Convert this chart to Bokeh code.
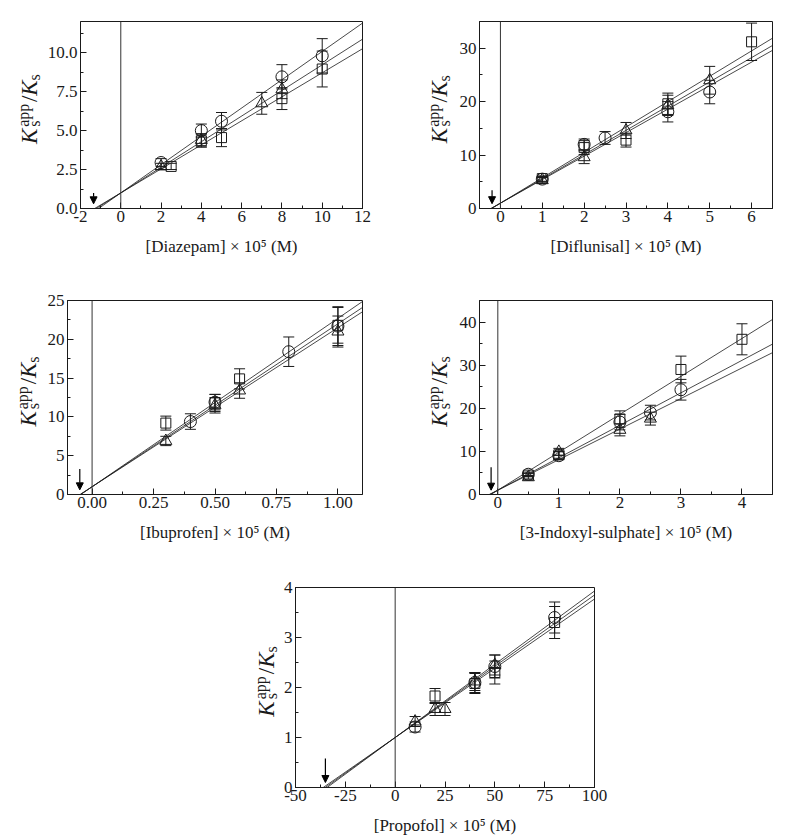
import numpy as np
from math import pi
from bokeh.plotting import figure
from bokeh.layouts import column, row
from bokeh.core.properties import value
from bokeh.models import (FixedTicker, Span, Whisker, ColumnDataSource, Arrow,
                          NormalHead, TeeHead, Range1d, NumeralTickFormatter)
from bokeh.embed import file_html
from bokeh.resources import INLINE

FONT = "Liberation Serif"
INK = "#1a1a1a"

# ---------------- data ----------------
# Diazepam
dz_circ_x = [2, 4, 5, 8, 10]
dz_circ_y = [2.95, 5.0, 5.6, 8.45, 9.8]
dz_circ_e = [0.25, 0.42, 0.56, 0.78, 1.1]
dz_sq_x = [2.5, 4, 5, 8, 10]
dz_sq_y = [2.7, 4.35, 4.55, 7.05, 8.95]
dz_sq_e = [0.2, 0.42, 0.58, 0.7, 1.15]
dz_tri_x = [2, 4, 7, 8]
dz_tri_y = [2.7, 4.4, 6.75, 7.65]
dz_tri_e = [0.2, 0.4, 0.7, 0.6]
dz_slopes = [0.908, 0.771, 0.822]   # circle, square, triangle fits

# Diflunisal
df_circ_x = [1, 2, 2.5, 4, 5]
df_circ_y = [5.5, 12.0, 13.2, 18.1, 21.8]
df_circ_e = [0.5, 1.0, 1.2, 1.9, 2.2]
df_sq_x = [1, 2, 3, 4, 6]
df_sq_y = [5.6, 11.4, 12.8, 19.6, 31.2]
df_sq_e = [0.5, 1.3, 1.3, 2.0, 3.5]
df_tri_x = [1, 2, 3, 4, 5]
df_tri_y = [5.3, 9.6, 14.6, 19.3, 24.0]
df_tri_e = [0.5, 1.2, 1.5, 1.9, 2.6]
df_slopes = [4.40, 4.75, 4.54]

# Ibuprofen
ib_circ_x = [0.4, 0.5, 0.8, 1.0]
ib_circ_y = [9.4, 11.9, 18.4, 21.7]
ib_circ_e = [1.0, 1.0, 1.9, 2.5]
ib_sq_x = [0.3, 0.5, 0.6, 1.0]
ib_sq_y = [9.2, 11.8, 14.9, 21.8]
ib_sq_e = [0.9, 1.1, 1.3, 2.3]
ib_tri_x = [0.3, 0.5, 0.6, 1.0]
ib_tri_y = [6.9, 11.5, 13.4, 21.0]
ib_tri_e = [0.6, 1.0, 1.0, 2.0]
ib_slopes = [21.0, 21.7, 20.5]

# 3-Indoxyl-sulphate
ix_circ_x = [0.5, 1, 2, 2.5, 3]
ix_circ_y = [4.7, 9.0, 16.8, 19.0, 24.3]
ix_circ_e = [0.5, 0.9, 1.8, 1.7, 2.4]
ix_sq_x = [0.5, 1, 2, 3, 4]
ix_sq_y = [4.5, 9.2, 17.5, 29.0, 36.0]
ix_sq_e = [0.4, 0.8, 1.9, 3.1, 3.6]
ix_tri_x = [0.5, 1, 2, 2.5]
ix_tri_y = [4.0, 9.9, 15.0, 17.6]
ix_tri_e = [0.4, 0.8, 1.4, 1.5]
ix_slopes = [7.53, 8.8, 7.09]

# Propofol
pr_circ_x = [10, 40, 50, 80]
pr_circ_y = [1.21, 2.1, 2.42, 3.4]
pr_circ_e = [0.1, 0.2, 0.23, 0.31]
pr_sq_x = [20, 40, 50, 80]
pr_sq_y = [1.83, 2.08, 2.3, 3.3]
pr_sq_e = [0.15, 0.2, 0.23, 0.32]
pr_tri_x = [10, 20, 25, 40, 50]
pr_tri_y = [1.32, 1.57, 1.57, 2.12, 2.45]
pr_tri_e = [0.1, 0.13, 0.13, 0.18, 0.2]
pr_slopes = [0.0293, 0.0285, 0.0277]

# axis settings
dz_xticks = [-2, 0, 2, 4, 6, 8, 10, 12]
dz_yticks = [0.0, 2.5, 5.0, 7.5, 10.0]
df_xticks = [0, 1, 2, 3, 4, 5, 6]
df_yticks = [0, 10, 20, 30]
ib_xticks = [0.0, 0.25, 0.5, 0.75, 1.0]
ib_yticks = [0, 5, 10, 15, 20, 25]
ix_xticks = [0, 1, 2, 3, 4]
ix_yticks = [0, 10, 20, 30, 40]
pr_xticks = [-50, -25, 0, 25, 50, 75, 100]
pr_yticks = [0, 1, 2, 3, 4]


def minor_between(ticks, lo, hi):
    step = ticks[1] - ticks[0]
    out = []
    v = ticks[0] - step / 2
    while v <= hi + 1e-9:
        if v >= lo - 1e-9:
            out.append(round(v, 6))
        v += step / 2
    return out


def ylabel_fig(width, height, fh, bx, big=23, small=16):
    """Axis-less figure (its frame aligns with the neighbouring plot frame, fh px tall)
    holding the rotated composite label K_s^app/K_s."""
    f = figure(width=width, height=height, output_backend="svg", toolbar_location=None,
               x_range=Range1d(0, width), y_range=Range1d(0, fh),
               x_axis_type=None, y_axis_type=None, min_border=0)
    f.grid.visible = False
    f.outline_line_color = None
    wK = 0.667 * big
    wapp = 1.444 * small
    wsl = 0.278 * big
    gap = 2
    ws = 0.389 * small
    total = wK + gap + wapp + gap + wsl + wK + ws
    y0 = fh / 2 + 6 - total / 2
    mid_b = 0.32 * big
    mid_s = 0.32 * small
    # (text, start along the text line, baseline shift, width, size, style)
    pieces = [
        ("K", 0, 0, wK, big, "italic"),
        ("s", wK + gap, 3, ws, small, "normal"),
        ("app", wK + gap, -8, wapp, small, "normal"),
        ("/", wK + gap + wapp + gap, 0, wsl, big, "normal"),
        ("K", wK + gap + wapp + gap + wsl, 0, wK, big, "italic"),
        ("s", wK + gap + wapp + gap + wsl + wK, 3, ws, small, "normal"),
    ]
    for t, along, shift, w, sz, st in pieces:
        mid = mid_b if sz == big else mid_s
        f.text(x=[bx + shift - mid], y=[y0 + along + w / 2], text=[t], angle=pi / 2,
               text_font=value(FONT), text_font_size=value(f"{sz}px"),
               text_font_style=st, text_color=INK, text_align="center",
               text_baseline="middle")
    return f


def panel(width, height, bl, bt, fw, fh, xr, yr, xticks, yticks, xfmt, yfmt,
          xlabel, series, slopes, arrow):
    p = figure(width=width, height=height, output_backend="svg", toolbar_location=None,
               x_range=Range1d(*xr), y_range=Range1d(*yr),
               min_border_left=bl, min_border_right=width - bl - fw,
               min_border_top=bt, min_border_bottom=height - bt - fh)
    p.outline_line_color = INK
    p.outline_line_width = 1
    p.grid.visible = False
    p.xaxis.ticker = FixedTicker(ticks=xticks, minor_ticks=minor_between(xticks, *xr))
    p.yaxis.ticker = FixedTicker(ticks=yticks, minor_ticks=minor_between(yticks, *yr))
    p.xaxis.formatter = NumeralTickFormatter(format=xfmt)
    p.yaxis.formatter = NumeralTickFormatter(format=yfmt)
    for ax in (p.xaxis, p.yaxis):
        ax.axis_line_color = INK
        ax.major_tick_line_color = INK
        ax.minor_tick_line_color = INK
        ax.major_tick_in = 6
        ax.major_tick_out = 0
        ax.minor_tick_in = 3
        ax.minor_tick_out = 0
        ax.major_label_text_font = FONT
        ax.major_label_text_font_size = "17px"
        ax.major_label_text_color = INK
        ax.axis_label_text_font = FONT
        ax.axis_label_text_font_size = "17px"
        ax.axis_label_text_font_style = "normal"
        ax.axis_label_text_color = INK
    p.xaxis.major_label_standoff = 2
    p.yaxis.major_label_standoff = 3
    p.xaxis.axis_label = xlabel
    p.xaxis.axis_label_standoff = 12
    p.yaxis.axis_label = None

    p.add_layout(Span(location=0, dimension="height", line_color="#333333", line_width=1))

    # fitted lines  y = 1 + s*x, drawn from the x-intercept to the right edge
    for s in slopes:
        x0 = -1.0 / s
        p.line([x0, xr[1]], [0.0, 1.0 + s * xr[1]], line_color=INK, line_width=0.8)

    markers = ["circle", "square", "triangle"]
    sizes = [12, 10, 12]
    for (xs, ys, es), mk, sz in zip(series, markers, sizes):
        src = ColumnDataSource(dict(x=xs, y=ys,
                                    upper=[a + b for a, b in zip(ys, es)],
                                    lower=[a - b for a, b in zip(ys, es)]))
        p.add_layout(Whisker(source=src, base="x", upper="upper", lower="lower",
                             line_color=INK, line_width=1,
                             upper_head=TeeHead(size=11, line_color=INK, line_width=1),
                             lower_head=TeeHead(size=11, line_color=INK, line_width=1)))
        p.scatter("x", "y", source=src, marker=mk, size=sz, fill_color=None,
                  line_color=INK, line_width=1)

    ax_, ay0, ay1 = arrow
    p.add_layout(Arrow(end=NormalHead(size=7, fill_color="black", line_color="black"),
                       x_start=ax_, y_start=ay0, x_end=ax_, y_end=ay1,
                       line_color="black", line_width=1.2))
    return p


# row 1 (height 270)
l1 = ylabel_fig(44, 270, 189, 36)
p1 = panel(356, 270, 34, 21, 284, 189, (-2, 12), (0, 12), dz_xticks, dz_yticks, "0", "0.0",
           "[Diazepam] × 10⁵ (M)",
           [(dz_circ_x, dz_circ_y, dz_circ_e), (dz_sq_x, dz_sq_y, dz_sq_e), (dz_tri_x, dz_tri_y, dz_tri_e)],
           dz_slopes, (-1.35, 1.0, 0.3))
l2 = ylabel_fig(54, 270, 195, 46)
p2 = panel(346, 270, 25, 13, 293, 195, (-0.5, 6.5), (0, 35), df_xticks, df_yticks, "0", "0",
           "[Diflunisal] × 10⁵ (M)",
           [(df_circ_x, df_circ_y, df_circ_e), (df_sq_x, df_sq_y, df_sq_e), (df_tri_x, df_tri_y, df_tri_e)],
           df_slopes, (-0.2, 3.4, 0.9))
# row 2 (height 290)
l3 = ylabel_fig(43, 290, 195, 35)
p3 = panel(357, 290, 24, 29, 295, 195, (-0.1, 1.1), (0, 25), ib_xticks, ib_yticks, "0.00", "0",
           "[Ibuprofen] × 10⁵ (M)",
           [(ib_circ_x, ib_circ_y, ib_circ_e), (ib_sq_x, ib_sq_y, ib_sq_e), (ib_tri_x, ib_tri_y, ib_tri_e)],
           ib_slopes, (-0.05, 3.3, 0.6))
l4 = ylabel_fig(54, 290, 194, 46)
p4 = panel(346, 290, 25, 30, 293, 194, (-0.3, 4.5), (0, 45), ix_xticks, ix_yticks, "0", "0",
           "[3-Indoxyl-sulphate] × 10⁵ (M)",
           [(ix_circ_x, ix_circ_y, ix_circ_e), (ix_sq_x, ix_sq_y, ix_sq_e), (ix_tri_x, ix_tri_y, ix_tri_e)],
           ix_slopes, (-0.11, 6.3, 1.0))
# row 3 (height 280)
l5 = ylabel_fig(280, 280, 200, 273)
p5 = panel(520, 280, 13, 27, 301, 200, (-50, 100), (0, 4), pr_xticks, pr_yticks, "0", "0",
           "[Propofol] × 10⁵ (M)",
           [(pr_circ_x, pr_circ_y, pr_circ_e), (pr_sq_x, pr_sq_y, pr_sq_e), (pr_tri_x, pr_tri_y, pr_tri_e)],
           pr_slopes, (-35, 0.58, 0.1))

layout = column(row(l1, p1, l2, p2), row(l3, p3, l4, p4), row(l5, p5))
open("out.html", "w").write(file_html(layout, INLINE))
